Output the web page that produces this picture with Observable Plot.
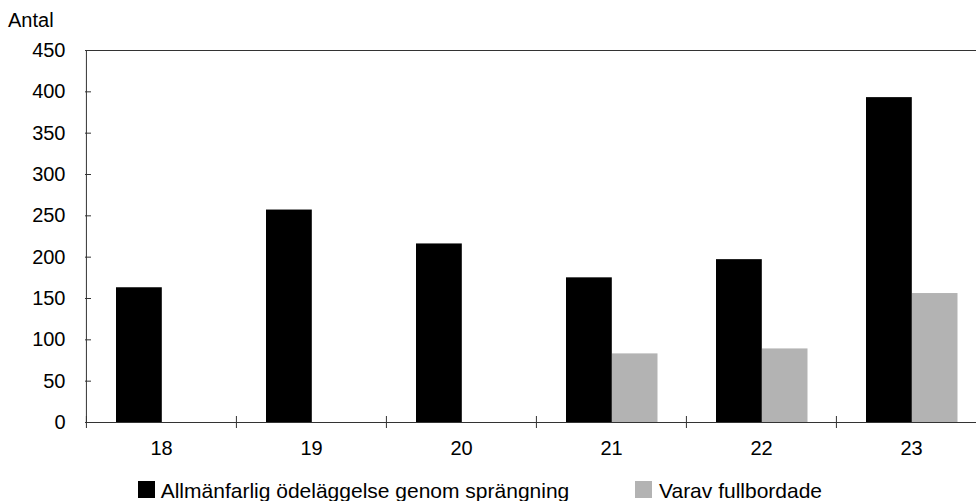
<!DOCTYPE html>
<html>
<head>
<meta charset="utf-8">
<script src="https://cdn.jsdelivr.net/npm/d3@7"></script>
<script src="https://cdn.jsdelivr.net/npm/@observablehq/plot@0.6"></script>
<style>
  html, body { margin: 0; padding: 0; background: #fff; overflow: hidden; }
  body { font-family: "Liberation Sans", Arial, sans-serif; color: #000; width: 976px; }
  .head { position: relative; height: 30px; }
  .head span { position: absolute; left: 8px; top: 10px; font-size: 20px; line-height: 20px; }
  #chart svg { display: block; overflow: hidden; }
  .legend { position: relative; height: 31px; }
  .legend .sw { position: absolute; top: 11px; width: 17px; height: 17px; }
  .legend .lt { position: absolute; top: 10px; font-size: 21px; line-height: 21px; white-space: nowrap; }
</style>
</head>
<body>
<div class="head"><span id="ylab"></span></div>
<div id="chart"></div>
<div class="legend" id="legend"></div>
<script>
// ---- data ----
const years = ["18", "19", "20", "21", "22", "23"];
const seriesNames = ["Allmänfarlig ödeläggelse genom sprängning", "Varav fullbordade"];
const seriesColors = ["#000000", "#b3b3b3"];
const totalValues = [163, 257, 216, 175, 197, 393];
const completedValues = [null, null, null, 83, 89, 156];
const yTicks = [0, 50, 100, 150, 200, 250, 300, 350, 400, 450];
const yLabel = "Antal";

const totalRows = years.map((y, i) => ({year: y, value: totalValues[i]}));
const completedRows = years.map((y, i) => ({year: y, value: completedValues[i]})).filter(d => d.value != null);

document.getElementById("ylab").textContent = yLabel;

const font = '"Liberation Sans", Arial, sans-serif';
const chart = Plot.plot({
  width: 976,
  height: 440,
  marginTop: 20,
  marginBottom: 48,
  marginLeft: 85,
  marginRight: 0,
  style: {fontFamily: font, fontSize: "20px", color: "#000", background: "#fff"},
  x: {type: "band", domain: years, range: [85, 986], padding: 0, label: null},
  y: {domain: [0, 450], label: null},
  marks: [
    Plot.barY(totalRows, {x: "year", y: "value", fill: seriesColors[0], insetLeft: 30, insetRight: 74.2}),
    Plot.barY(completedRows, {x: "year", y: "value", fill: seriesColors[1], insetLeft: 76, insetRight: 28.5}),
    Plot.ruleY([0, 450], {stroke: "#333"}),
    Plot.ruleX(years.slice(0, 1), {x: d => d, y1: 0, y2: 450, dx: -75.08, stroke: "#333"}),
    Plot.ruleX(years, {x: d => d, y1: 0, y2: 0, insetTop: -6, insetBottom: -6, dx: -75.08, stroke: "#333"}),
    Plot.axisY(yTicks, {tickSize: -6, tickPadding: 26, stroke: "#333", fontSize: 20, label: null}),
    Plot.axisX({tickSize: 0, tickPadding: 18, fontSize: 20, label: null})
  ]
});
document.getElementById("chart").appendChild(chart);

// ---- legend ----
const legendPos = [[138, 160.7], [635, 659]];
const legend = document.getElementById("legend");
seriesNames.forEach((name, i) => {
  const sw = document.createElement("span");
  sw.className = "sw";
  sw.style.left = legendPos[i][0] + "px";
  sw.style.background = seriesColors[i];
  const lt = document.createElement("span");
  lt.className = "lt";
  lt.style.left = legendPos[i][1] + "px";
  lt.textContent = name;
  legend.appendChild(sw);
  legend.appendChild(lt);
});
</script>
</body>
</html>
